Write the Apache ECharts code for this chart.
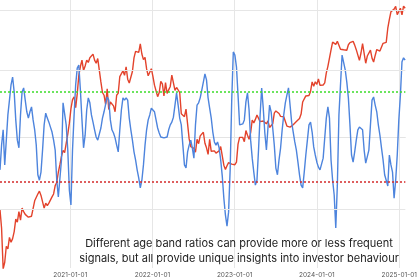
<!DOCTYPE html>
<html><head><meta charset="utf-8">
<script src="https://cdn.jsdelivr.net/npm/echarts@6/dist/echarts.min.js"></script>
<style>html,body{margin:0;padding:0;background:#fff}#c{width:420px;height:280px}</style>
</head><body><div id="c"></div>
<script>
// weekly samples starting at this date
var startDate = '2020-02-24';
var stepDays = 7;
var xMin = '2020-02-24', xMax = '2025-01-28';
var yearTicks = ['2021-01-01', '2022-01-01', '2023-01-01', '2024-01-01', '2025-01-01'];
// BTC price (USD, log axis)
var price = [
9900,8000,5000,5400,6500,6300,7200,6800,7100,7700,8900,8600,9700,8800,10100,9700,9400,9600,9100,9300,
9200,9200,11000,11200,11900,12300,11700,11900,10100,10700,10400,10700,10700,11500,11900,13100,13600,15300,16700,18400,
19700,19200,19200,23800,27000,31900,35500,36600,32300,38000,47000,52000,56000,49600,52300,56000,54500,57600,58700,60000,
56000,54000,57000,56700,43500,38500,37300,33600,40200,31600,34500,33800,33000,30800,37300,38200,46300,45900,49500,47000,
51800,44900,43000,42200,49100,57500,62000,60800,61300,67500,60100,56300,57800,50600,46700,46900,50700,46400,41900,42200,
36700,38500,43800,42500,37000,43200,38100,39700,41300,47100,46600,39500,40800,40400,38500,30100,29800,29100,31800,31400,
22500,20600,20700,20200,19300,22400,21300,23300,23800,24300,21400,20300,18800,22400,19500,19200,19600,19100,19500,19600,
20600,20600,16600,15800,16500,17100,17100,16800,16900,16700,17200,21200,22900,22800,22900,21800,24800,23500,22400,24200,
28000,27100,28200,29700,29400,27500,28100,27700,27200,26800,27700,25700,25900,26800,30300,31100,30400,30200,29200,29200,
29100,29400,26100,26100,25800,25800,26500,26200,27500,27600,28500,30000,34500,35000,37000,37400,37200,39000,43500,41400,
43600,42300,45000,41800,41600,42000,43000,48300,52100,51700,63100,68900,68500,67200,69600,69300,63500,64500,63100,63900,
62800,66900,68500,67500,69600,66600,63200,62900,55800,60800,67700,68300,54000,58700,58500,62800,57300,54800,59100,63300,
63300,62200,62900,68000,68000,68800,81000,89800,98000,97200,101000,104400,94700,93700,102000,94500,104500,102000
];
// age band ratio oscillator (standardised)
var ratio = [
-0.73,-0.18,0.16,-0.62,-0.07,0.49,0.82,1.16,1.33,1.00,0.38,-0.07,-0.24,0.49,1.00,1.09,0.82,0.56,0.42,0.56,
0.67,0.38,0.16,-0.18,-0.84,-0.96,-0.78,-0.29,0.27,0.53,0.42,0.33,0.22,0.11,-0.07,-0.29,-0.96,-1.33,-1.36,-0.51,
0.76,0.76,0.27,-0.29,-1.18,-1.51,-0.29,0.49,1.16,1.53,1.60,1.04,0.38,-0.24,0.04,0.60,0.87,0.76,0.49,0.33,
0.16,0.00,-0.07,-0.07,0.20,0.42,0.56,0.60,0.89,0.82,0.38,0.16,0.09,-0.02,-0.18,-0.33,0.16,0.60,0.87,0.82,
0.87,0.82,0.42,0.16,-0.07,-0.33,-0.51,-0.73,-0.91,-1.13,-0.96,-0.62,-0.18,0.16,0.38,0.49,0.64,0.64,0.56,0.38,
0.20,0.09,0.00,0.04,-0.02,0.00,0.00,0.16,0.27,0.33,0.44,0.71,0.98,0.71,0.42,0.27,-0.18,-0.62,-0.69,-0.33,
-0.18,-0.07,-0.24,-0.47,0.27,0.71,0.76,0.87,1.04,1.22,1.40,1.27,0.87,0.64,0.42,0.11,-0.11,-0.18,-0.11,-0.24,
-0.51,-0.87,-1.36,-1.73,-1.98,-1.67,-0.73,0.82,1.89,1.82,1.56,0.93,0.27,0.24,0.29,0.38,0.78,0.98,0.60,-0.07,
-0.47,-0.78,-1.07,-0.96,-0.29,0.49,1.09,0.64,0.09,-0.29,-0.29,0.71,0.56,0.20,-0.18,-0.69,-0.84,-0.51,-0.24,0.16,
0.49,0.76,0.93,1.09,0.71,0.33,0.11,-0.11,-0.29,-0.56,-0.84,-1.07,-1.13,-0.78,-0.40,-0.07,0.27,0.33,0.11,-0.22,
-0.40,-0.56,-0.67,-0.73,-0.73,-0.47,-0.02,0.42,0.67,0.42,-0.51,-0.96,-1.29,-2.02,-1.07,0.49,1.16,1.82,1.82,1.49,
1.22,0.87,0.27,-0.40,-0.56,-0.33,-0.07,0.16,0.22,0.24,0.16,-0.29,-0.58,-0.62,-0.29,0.27,0.82,0.89,0.71,0.56,
0.27,0.04,-0.24,-0.51,-0.84,-0.96,-1.09,-0.40,-0.62,-0.78,-1.36,-0.96,-0.40,0.38,0.93,1.67,1.76,1.71
];
var upperBand = 1;
var lowerBand = -1;
var priceGrid = [10000, 50000, 100000];
var noteLines = ['Different age band ratios can provide more or less frequent',
                 'signals, but all provide unique insights into investor behaviour'];

function ts(d) { return new Date(d + 'T00:00:00').getTime(); }
var t0 = ts(startDate);
function dateAt(i) { return t0 + i * stepDays * 86400000; }
var priceData = price.map(function (v, i) { return [dateAt(i), v]; });
var ratioData = ratio.map(function (v, i) { return [dateAt(i), v]; });
var yearVals = yearTicks.map(ts);

var chart = echarts.init(document.getElementById('c'), null, {renderer: 'canvas'});
chart.setOption({
  animation: false,
  backgroundColor: '#ffffff',
  grid: {left: 0, right: 0, top: 0, bottom: 12, containLabel: false},
  xAxis: {
    type: 'value',
    min: ts(xMin),
    max: ts(xMax),
    axisLine: {show: true, lineStyle: {color: '#e4e4e4', width: 1}},
    axisTick: {show: false, customValues: yearVals},
    axisLabel: {
      customValues: yearVals,
      fontSize: 6.5, color: '#555', margin: 4, fontFamily: 'Inter',
      formatter: function (v) { return echarts.time.format(v, '{yyyy}-{MM}-{dd}', false); }
    },
    splitLine: {show: true, lineStyle: {color: '#e6e6e6', width: 1}}
  },
  yAxis: [
    {type: 'value', min: -2.911, max: 3.044, show: true,
     axisLine: {show: false}, axisTick: {show: false}, axisLabel: {show: false}, splitLine: {show: false}},
    {type: 'log', logBase: 10, min: 5054, max: 112260, show: true,
     axisLine: {show: false}, axisTick: {show: false}, axisLabel: {show: false}, splitLine: {show: false}}
  ],
  graphic: [{
    type: 'text', x: 239, y: 236, z: 100,
    style: {text: noteLines.join('\n'), textAlign: 'center', textVerticalAlign: 'top',
            font: '11px Inter', fill: '#222', lineHeight: 15}
  }],
  series: [
    {type: 'line', name: 'Price', yAxisIndex: 1, data: priceData, showSymbol: false, symbol: 'none',
     lineStyle: {color: '#e3432c', width: 1.4}, z: 2,
     markLine: {silent: true, symbol: 'none', label: {show: false}, animation: false,
       lineStyle: {color: '#e6e6e6', width: 1, type: 'solid'},
       data: priceGrid.map(function (p) { return {yAxis: p}; })}},
    {type: 'line', name: 'Ratio', yAxisIndex: 0, data: ratioData, showSymbol: false, symbol: 'none',
     lineStyle: {color: '#4d84dd', width: 1.4}, z: 3,
     markLine: {silent: true, symbol: 'none', label: {show: false}, animation: false,
       data: [
         {yAxis: upperBand, lineStyle: {color: '#3ddc2a', width: 1.5, type: [2, 2]}},
         {yAxis: lowerBand, lineStyle: {color: '#d42a2a', width: 1.5, type: [2, 2]}}
       ]}}
  ]
});
</script></body></html>
